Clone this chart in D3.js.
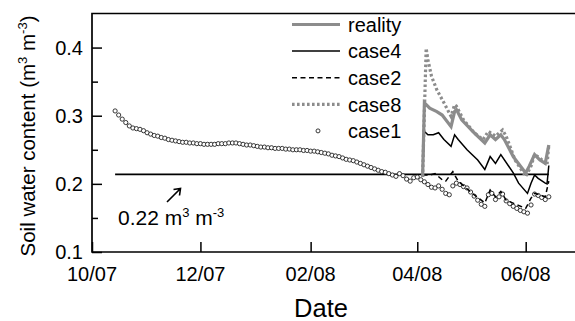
<!DOCTYPE html>
<html>
<head>
<meta charset="utf-8">
<script src="https://cdn.jsdelivr.net/npm/d3@7"></script>
<style>
  body { margin: 0; background: #fff; }
  svg { display: block; font-family: Arial, "Liberation Sans", sans-serif; }
</style>
</head>
<body>
<script>
// case1 : observations every 2 days from 14 Oct 2007
const case1Start = '2007-10-14';
const case1Step = 2;
const case1 = [
  0.307, 0.301, 0.295, 0.290, 0.285, 0.282, 0.281, 0.280, 0.278, 0.275,
  0.273, 0.271, 0.270, 0.268, 0.267, 0.265, 0.264, 0.263, 0.262, 0.261,
  0.261, 0.260, 0.260, 0.259, 0.259, 0.258, 0.258, 0.258, 0.258, 0.259,
  0.259, 0.259, 0.260, 0.260, 0.260, 0.259, 0.258, 0.257, 0.257, 0.256,
  0.255, 0.254, 0.254, 0.253, 0.253, 0.252, 0.252, 0.252, 0.251, 0.251,
  0.250, 0.250, 0.250, 0.249, 0.249, 0.248, 0.248, 0.247, 0.246, 0.245,
  0.244, 0.242, 0.241, 0.240, 0.238, 0.236, 0.235, 0.234, 0.232, 0.230,
  0.228, 0.226, 0.224, 0.222, 0.220, 0.218, 0.217, 0.215, 0.213, 0.211,
  0.215, 0.212, 0.207, 0.204, 0.209, 0.210, 0.206, 0.203, 0.199, 0.195,
  0.194, 0.197, 0.192, 0.186, 0.184, 0.197, 0.201, 0.199, 0.196, 0.194,
  0.188, 0.182, 0.176, 0.170, 0.167, 0.184, 0.186, 0.177, 0.181, 0.185,
  0.175, 0.171, 0.167, 0.164, 0.161, 0.159, 0.157, 0.169, 0.185, 0.183,
  0.180, 0.177, 0.181
];

const realityDates = ['2008-04-04','2008-04-05','2008-04-08','2008-04-12','2008-04-15','2008-04-20',
  '2008-04-22','2008-04-23','2008-04-26','2008-05-03','2008-05-09','2008-05-12','2008-05-15',
  '2008-05-18','2008-05-20','2008-05-25','2008-06-01','2008-06-03','2008-06-06','2008-06-09',
  '2008-06-12','2008-06-14'];
const realityVals = [0.210, 0.319, 0.311, 0.306, 0.301, 0.284, 0.306, 0.309, 0.294, 0.275, 0.260,
  0.272, 0.265, 0.272, 0.265, 0.240, 0.216, 0.226, 0.243, 0.235, 0.230, 0.257];

const case8Dates = ['2008-04-04','2008-04-06','2008-04-07','2008-04-09','2008-04-12','2008-04-16',
  '2008-04-20','2008-04-22','2008-04-23','2008-04-27','2008-05-03','2008-05-08','2008-05-11',
  '2008-05-15','2008-05-19','2008-05-21','2008-05-26','2008-06-01','2008-06-04','2008-06-06',
  '2008-06-09','2008-06-13','2008-06-14'];
const case8Vals = [0.210, 0.399, 0.382, 0.358, 0.338, 0.319, 0.299, 0.316, 0.314, 0.294, 0.275,
  0.265, 0.277, 0.270, 0.279, 0.270, 0.235, 0.211, 0.226, 0.243, 0.238, 0.228, 0.257];

const case4Dates = ['2008-04-04','2008-04-05','2008-04-07','2008-04-10','2008-04-13','2008-04-16',
  '2008-04-20','2008-04-22','2008-04-24','2008-04-29','2008-05-05','2008-05-09','2008-05-12',
  '2008-05-15','2008-05-18','2008-05-25','2008-05-28','2008-06-02','2008-06-04','2008-06-06',
  '2008-06-08','2008-06-12','2008-06-13','2008-06-14'];
const case4Vals = [0.214, 0.277, 0.272, 0.272, 0.275, 0.265, 0.255, 0.272, 0.265, 0.250, 0.235,
  0.221, 0.240, 0.230, 0.243, 0.216, 0.201, 0.186, 0.201, 0.213, 0.208, 0.201, 0.200, 0.227];

const case2Dates = ['2008-04-04','2008-04-08','2008-04-11','2008-04-15','2008-04-17','2008-04-21',
  '2008-04-24','2008-05-02','2008-05-09','2008-05-12','2008-05-15','2008-05-18','2008-05-21',
  '2008-06-01','2008-06-04','2008-06-06','2008-06-12','2008-06-14'];
const case2Vals = [0.213, 0.213, 0.215, 0.206, 0.204, 0.218, 0.204, 0.186, 0.172, 0.191, 0.181,
  0.189, 0.176, 0.164, 0.179, 0.186, 0.181, 0.204];

const threshold = 0.214;
const thresholdDates = ['2007-10-14', '2008-06-14'];

const yMajor = [0.1, 0.2, 0.3, 0.4];
const yMinor = [0.15, 0.25, 0.35];
const xTickDates = ['2007-10-01', '2007-12-01', '2008-02-01', '2008-04-01', '2008-06-01'];

const legendNames = ['reality', 'case4', 'case2', 'case8', 'case1'];

const W = 575, H = 321;
const parse = d3.timeParse('%Y-%m-%d');
const fmt = d3.timeFormat('%m/%y');
const gray = '#8c8c8c';

const svg = d3.select('body').append('svg')
  .attr('width', W).attr('height', H);

const x = d3.scaleTime()
  .domain([parse('2007-10-01'), parse('2008-06-01')])
  .range([92, 525.7]);
const y = d3.scaleLinear()
  .domain([0.1, 0.45])
  .range([252, 13.5]);

const plotL = 92, plotR = 590, plotT = y(0.45), plotB = y(0.1);

// axes, ticks point inward
const yAxis = svg.append('g')
  .attr('transform', `translate(${plotL},0)`)
  .call(d3.axisRight(y).tickValues(yMajor).tickSize(10).tickFormat(''));
yAxis.select('.domain').remove();
yAxis.selectAll('line').attr('stroke-width', 1.5);

const yAxisMinor = svg.append('g')
  .attr('transform', `translate(${plotL},0)`)
  .call(d3.axisRight(y).tickValues(yMinor).tickSize(6).tickFormat(''));
yAxisMinor.select('.domain').remove();
yAxisMinor.selectAll('line').attr('stroke-width', 1.5);

svg.append('g').selectAll('text')
  .data(yMajor).enter().append('text')
  .attr('x', 83).attr('y', d => y(d))
  .attr('dy', '0.36em')
  .attr('text-anchor', 'end')
  .attr('font-size', 20)
  .text(d => d3.format('.1f')(d));

const xAxis = svg.append('g')
  .attr('transform', `translate(0,${plotB})`)
  .call(d3.axisTop(x).tickValues(xTickDates.map(parse)).tickSize(10).tickFormat(''));
xAxis.select('.domain').remove();
xAxis.selectAll('line').attr('stroke-width', 1.5);

svg.append('g').selectAll('text')
  .data(xTickDates.map(parse)).enter().append('text')
  .attr('x', d => x(d)).attr('y', plotB + 28.5)
  .attr('text-anchor', 'middle')
  .attr('font-size', 20)
  .text(d => fmt(d));

// frame (left, top, bottom; right side is cut off)
svg.append('path')
  .attr('d', `M${plotR},${plotT}H${plotL}V${plotB}H${plotR}`)
  .attr('fill', 'none').attr('stroke', '#000').attr('stroke-width', 1.7);

// titles
svg.append('text')
  .attr('x', 321).attr('y', 317)
  .attr('text-anchor', 'middle')
  .attr('font-size', 25.5)
  .text('Date');

const yt = svg.append('text')
  .attr('transform', 'translate(35,136) rotate(-90)')
  .attr('text-anchor', 'middle')
  .attr('font-size', 20.5);
yt.append('tspan').text('Soil water content (m');
yt.append('tspan').attr('dy', -8).attr('font-size', 13).text('3');
yt.append('tspan').attr('dy', 8).text(' m');
yt.append('tspan').attr('dy', -8).attr('font-size', 13).text('-3');
yt.append('tspan').attr('dy', 8).text(')');

// threshold line + annotation
svg.append('line')
  .attr('x1', x(parse(thresholdDates[0]))).attr('x2', x(parse(thresholdDates[1])))
  .attr('y1', y(threshold)).attr('y2', y(threshold))
  .attr('stroke', '#000').attr('stroke-width', 1.7);

// arrow drawn as shaft + open head
const ax0 = 167, ay0 = 202, ax1 = 180.5, ay1 = 188.5;
svg.append('path')
  .attr('d', `M${ax0},${ay0}L${ax1},${ay1}M${ax1 - 7},${ay1 + 1}L${ax1},${ay1}L${ax1 - 1},${ay1 + 7}`)
  .attr('fill', 'none').attr('stroke', '#000').attr('stroke-width', 1.6);

const ann = svg.append('text')
  .attr('x', 118).attr('y', 225)
  .attr('font-size', 21);
ann.append('tspan').text('0.22 m');
ann.append('tspan').attr('dy', -8).attr('font-size', 13).text('3');
ann.append('tspan').attr('dy', 8).text(' m');
ann.append('tspan').attr('dy', -8).attr('font-size', 13).text('-3');

// series
const line = d3.line().x(d => x(d.date)).y(d => y(d.v));
const zip = (ds, vs) => ds.map((d, i) => ({ date: parse(d), v: vs[i] }));

const c1 = case1.map((v, i) => ({ date: d3.timeDay.offset(parse(case1Start), i * case1Step), v }));

const series = [
  { name: 'case2', data: zip(case2Dates, case2Vals), stroke: '#000', width: 1.5, dash: '5,3.5' },
  { name: 'case4', data: zip(case4Dates, case4Vals), stroke: '#000', width: 1.5, dash: null },
  { name: 'reality', data: zip(realityDates, realityVals), stroke: gray, width: 3.2, dash: null },
  { name: 'case8', data: zip(case8Dates, case8Vals), stroke: gray, width: 3.2, dash: '2.6,2.4' }
];

svg.append('g').selectAll('circle')
  .data(c1).enter().append('circle')
  .attr('cx', d => x(d.date)).attr('cy', d => y(d.v))
  .attr('r', 2.1)
  .attr('fill', '#fff').attr('stroke', '#222').attr('stroke-width', 0.9);

svg.append('g').selectAll('path')
  .data(series).enter().append('path')
  .attr('d', d => line(d.data))
  .attr('fill', 'none')
  .attr('stroke', d => d.stroke)
  .attr('stroke-width', d => d.width)
  .attr('stroke-dasharray', d => d.dash);

// legend
const styles = {
  reality: { stroke: gray, width: 3.2, dash: null },
  case4: { stroke: '#000', width: 1.5, dash: null },
  case2: { stroke: '#000', width: 1.5, dash: '5,3.5' },
  case8: { stroke: gray, width: 3.2, dash: '2.6,2.4' }
};
const lg = svg.append('g').selectAll('g')
  .data(legendNames).enter().append('g')
  .attr('transform', (d, i) => `translate(0,${24.5 + i * 26.6})`);

lg.filter(d => d !== 'case1').append('line')
  .attr('x1', 292).attr('x2', 340).attr('y1', 0).attr('y2', 0)
  .attr('stroke', d => styles[d].stroke)
  .attr('stroke-width', d => styles[d].width)
  .attr('stroke-dasharray', d => styles[d].dash);

lg.filter(d => d === 'case1').append('circle')
  .attr('cx', 318).attr('cy', 0).attr('r', 2)
  .attr('fill', '#fff').attr('stroke', '#222').attr('stroke-width', 0.9);

lg.append('text')
  .attr('x', 348).attr('y', 0).attr('dy', '0.36em')
  .attr('font-size', 20)
  .text(d => d);
</script>
</body>
</html>
